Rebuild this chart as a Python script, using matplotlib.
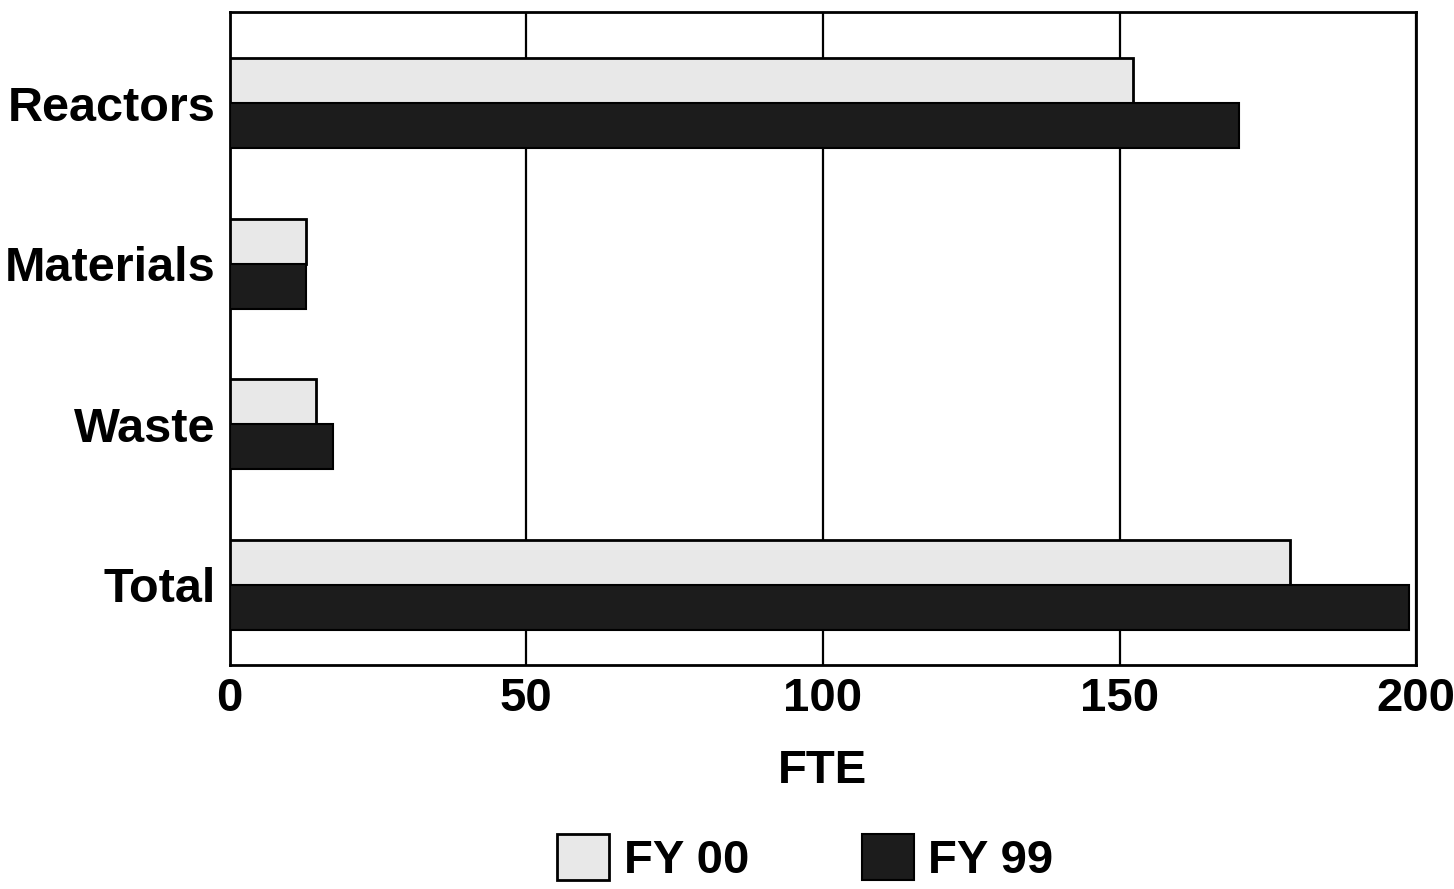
import matplotlib.pyplot as plt
import numpy as np

# FTE by program area, FY 00 vs FY 99
categories = ["Reactors", "Materials", "Waste", "Total"]
fy00 = [152.3, 12.8, 14.5, 178.8]
fy99 = [170.2, 12.8, 17.4, 198.8]
series_labels = ["FY 00", "FY 99"]

plt.rcParams["font.family"] = ["Liberation Sans", "DejaVu Sans"]
plt.rcParams["font.weight"] = "bold"

fig = plt.figure(figsize=(14.54, 8.89), dpi=100)
ax = fig.add_axes([0.158, 0.252, 0.816, 0.735])

y = np.arange(len(categories))
h = 0.28
ax.barh(y - h / 2, fy00, height=h, color="#e8e8e8", edgecolor="black",
        linewidth=2, label=series_labels[0], zorder=3)
ax.barh(y + h / 2, fy99, height=h, color="#1c1c1c", edgecolor="black",
        linewidth=1.5, label=series_labels[1], zorder=3)

ax.set_xlim(0, 200)
ax.set_ylim(3.5, -0.57)
ax.set_xticks([0, 50, 100, 150, 200])
ax.set_yticks(y)
ax.set_yticklabels(categories)
ax.tick_params(axis="y", length=0, labelsize=35, pad=10)
ax.tick_params(axis="x", length=0, labelsize=34, pad=9)
for lab in ax.get_xticklabels() + ax.get_yticklabels():
    lab.set_fontweight("bold")

ax.grid(axis="x", color="black", linewidth=1.6, zorder=1)
for s in ax.spines.values():
    s.set_linewidth(2)

ax.set_xlabel("FTE", fontsize=34, fontweight="bold", labelpad=20)

fig.legend(loc="center", bbox_to_anchor=(0.554, 0.034), ncol=2,
           frameon=False, prop={"weight": "bold", "size": 34},
           handlelength=1.1, handleheight=1.1, handletextpad=0.3,
           columnspacing=2.4)

fig.savefig("out.png", dpi=100)
